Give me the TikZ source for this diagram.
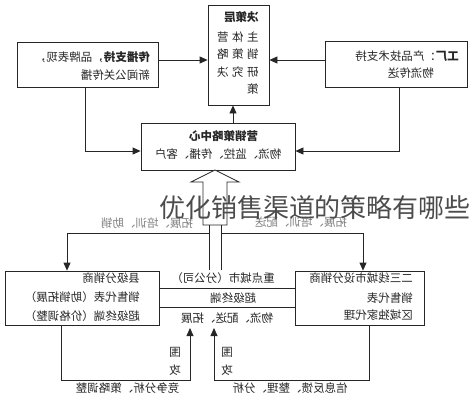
\documentclass[tikz,border=0pt]{standalone}
\usepackage{fontspec}
\setmainfont{Noto Sans CJK SC}
\usepackage{graphicx}
\usetikzlibrary{arrows.meta,calc}
\newcommand\mirr[1]{\reflectbox{#1}}
\begin{document}
\begin{tikzpicture}[x=1pt,y=-1pt,
  box/.style={draw=black!85,line width=0.8pt,inner sep=0pt},
  txt/.style={inner sep=0pt,font=\fontsize{11.5}{12}\selectfont,text=black!85},
  lbl/.style={inner sep=0pt,font=\fontsize{11.5}{12}\selectfont,text=black!50},
  conn/.style={draw=black!85,line width=0.8pt},
  arr/.style={conn,-{Triangle[length=8pt,width=7pt]}},
]
\useasboundingbox (0,0) rectangle (472,400);
% boxes
\node[box,minimum width=61,minimum height=100] (dec) at (238.5,55) {};
\node[box,minimum width=141,minimum height=45] (tl) at (87.5,64.5) {};
\node[box,minimum width=142,minimum height=46] (tr) at (396,64) {};
\node[box,minimum width=154,minimum height=47] (mid) at (218,146.5) {};
\node[box,minimum width=154,minimum height=54] (bl) at (82,298) {};
\node[box,minimum width=129,minimum height=54] (br) at (359.5,298) {};
% top box text
\node[txt,anchor=east,font=\fontsize{11.5}{12}\selectfont\bfseries] (d1) at (258.75,17) {\mirr{决策层}};
\node[txt,anchor=east] (d2) at (258.75,37) {\mirr{主\hspace{3.5pt}体\hspace{3.5pt}营}};
\node[txt,anchor=east] (d3) at (258.75,54) {\mirr{销\hspace{3.5pt}策\hspace{3.5pt}略}};
\node[txt,anchor=east] (d4) at (258.75,72) {\mirr{研\hspace{3.5pt}究\hspace{3.5pt}决}};
\node[txt,anchor=east] (d5) at (258.75,89) {\mirr{策}};
% top-left / top-right text
\node[txt,anchor=east] (t1) at (150,57) {\mirr{{\bfseries 传播支持}，品牌表现，}};
\node[txt,anchor=east] (t2) at (150,75) {\mirr{新闻公关传播}};
\node[txt,anchor=east] (r1) at (459,56) {\mirr{{\bfseries 工厂}：产品技术支持}};
\node[txt,anchor=east] (r2) at (434,73) {\mirr{物流传送}};
% middle box text
\node[txt,font=\fontsize{11.5}{12}\selectfont\bfseries] (m1) at (223.5,136) {\mirr{营销策略中心}};
\node[txt] (m2) at (218,154) {\mirr{物流、监控、传播、客户}};
% bottom boxes text
\node[txt,anchor=east] (b1) at (140,278) {\mirr{县级分销商}};
\node[txt,anchor=east] (b2) at (140,297) {\mirr{销售代表（助销拓展）}};
\node[txt,anchor=east] (b3) at (140,316) {\mirr{超级终端（价格调整）}};
\node[txt,anchor=east] (c1) at (413,278) {\mirr{二三线城市设分销商}};
\node[txt,anchor=east] (c2) at (413,298) {\mirr{销售代表}};
\node[txt,anchor=east] (c3) at (413,315) {\mirr{区域独家代理}};
% middle bottom text
\node[txt] (k1) at (223,278) {\mirr{重点城市（分公司）}};
\node[txt] (k2) at (233,298) {\mirr{超级终端}};
\node[txt] (k3) at (227,318) {\mirr{物流、配送、拓展}};
% labels
\node[lbl] (l1) at (147,223) {\mirr{拓展、培训、助销}};
\node[lbl] (l2) at (301,222) {\mirr{拓展、培训、配送}};
\node[txt] (l3) at (127.5,388) {\mirr{竞争分析、策略调整}};
\node[txt] (l4) at (290,388) {\mirr{信息反馈、整理、分析}};
\node[txt] (w1) at (175,352) {\mirr{围}};
\node[txt] (w2) at (175,370) {\mirr{攻}};
\node[txt] (w3) at (227,352) {\mirr{围}};
\node[txt] (w4) at (227,370) {\mirr{攻}};
% top connectors
\draw[arr] ([yshift=4.5pt]tl.east) -- ([yshift=4.5pt]tl.east -| dec.west);
\draw[arr] ([yshift=4pt]tr.west) -- ([yshift=4pt]tr.west -| dec.east);
\draw[arr] ([xshift=-5.5pt]dec.south |- mid.north) -- ([xshift=-5.5pt]dec.south);
\draw[arr] ([xshift=-2.5pt]tl.south) |- ([yshift=-4.5pt]mid.west);
\draw[arr] ([xshift=3pt]tr.south) |- ([yshift=-4.5pt]mid.east);
% hollow arrow
\draw[conn,fill=white] (203,225) -- (203,182) -- (191,182) -- (215,170) -- (239,182) -- (227,182) -- (227,225) -- cycle;
\coordinate (sL) at (209,225);
\coordinate (sR) at (221,225);
\coordinate (mL) at (209,270);
\coordinate (mR) at (221,270);
\coordinate (jL) at (209,233);
\coordinate (jR) at (221,233);
\draw[conn] (sL) -- (mL);
\draw[conn] (sR) -- (mR);
\draw[arr] (jL) -| ([xshift=-15pt]bl.north);
\draw[arr] (jR) -| ([xshift=3.5pt]br.north);
% lines between bottom boxes
\draw[conn] ([yshift=10pt]bl.east) -- ([yshift=10pt]bl.east -| br.west);
\draw[conn] ([yshift=-9pt]bl.east) -- ([yshift=-9pt]bl.east -| br.west);
% bottom feedback arrows
\coordinate (tgL) at (190,328);
\coordinate (tgR) at (214,328);
\draw[arr] ([xshift=-21pt]bl.south) -- ++(0,55) -| (tgL);
\draw[arr] ([xshift=9.5pt]br.south) -- ++(0,55) -| (tgR);
% watermark
\node[inner sep=0pt,font=\fontsize{26}{26}\selectfont,text=black!70] (wm) at (315,208) {优化销售渠道的策略有哪些};
\end{tikzpicture}
\end{document}
